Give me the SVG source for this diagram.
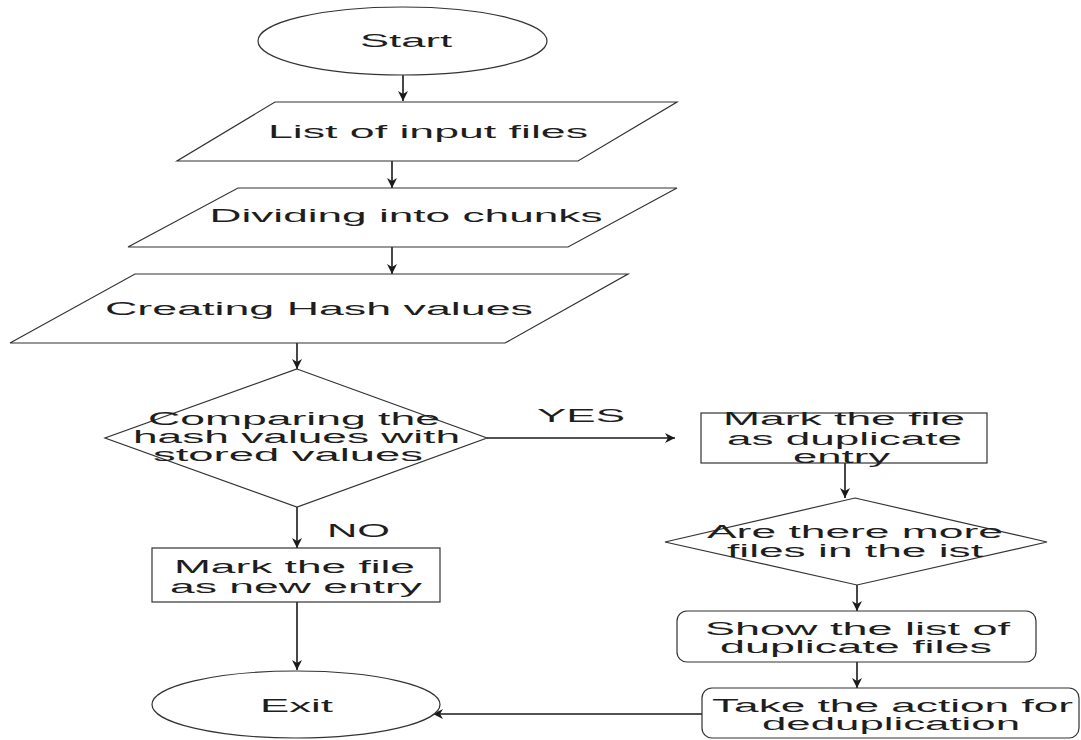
<svg xmlns="http://www.w3.org/2000/svg" width="1081" height="740" viewBox="0 0 1081 740">
<defs>
<marker id="ah" markerUnits="userSpaceOnUse" markerWidth="12" markerHeight="12" refX="10" refY="5" orient="auto">
<path d="M0,0 L10,5 L0,10 L3,5 Z" fill="#1a1a1a"/>
</marker>
<style>
.s{fill:#fff;stroke:#333;stroke-width:1.2}
.t{font-family:"Liberation Sans",Arial,sans-serif;font-size:18px;fill:#1e1e1e;text-anchor:middle}
.c{fill:none;stroke:#1a1a1a;stroke-width:1.6}
</style>
</defs>
<rect width="1081" height="740" fill="#fff"/>
<g id="connectors">
<line class="c" x1="403" y1="75" x2="403" y2="101" marker-end="url(#ah)"/>
<line class="c" x1="392" y1="161" x2="392" y2="188" marker-end="url(#ah)"/>
<line class="c" x1="392" y1="247" x2="392" y2="274" marker-end="url(#ah)"/>
<line class="c" x1="297" y1="343" x2="297" y2="369" marker-end="url(#ah)"/>
<line class="c" x1="487" y1="438" x2="675" y2="438" stroke-width="1.2" marker-end="url(#ah)"/>
<line class="c" x1="297" y1="507" x2="297" y2="548" marker-end="url(#ah)"/>
<line class="c" x1="297" y1="602" x2="297" y2="670" marker-end="url(#ah)"/>
<line class="c" x1="845" y1="463" x2="845" y2="498" marker-end="url(#ah)"/>
<line class="c" x1="857" y1="585" x2="857" y2="611" marker-end="url(#ah)"/>
<line class="c" x1="857" y1="662" x2="857" y2="688" marker-end="url(#ah)"/>
<line class="c" x1="702" y1="714" x2="433" y2="714" stroke-width="1.2" marker-end="url(#ah)"/>
<text class="t" x="581" y="422" textLength="88" lengthAdjust="spacingAndGlyphs">YES</text>
<text class="t" x="358.5" y="537" textLength="63" lengthAdjust="spacingAndGlyphs">NO</text>
</g>
<g id="start">
<ellipse class="s" cx="402.5" cy="41" rx="144.5" ry="34"/>
<text class="t" x="406" y="47" textLength="92" lengthAdjust="spacingAndGlyphs">Start</text>
</g>
<g id="list-input">
<polygon class="s" points="275,102 677,102 578,161 177,161"/>
<text class="t" x="428" y="138" textLength="320" lengthAdjust="spacingAndGlyphs">List of input files</text>
</g>
<g id="dividing">
<polygon class="s" points="238,188 677,188 568,247 128,247"/>
<text class="t" x="406" y="222" textLength="393" lengthAdjust="spacingAndGlyphs">Dividing into chunks</text>
</g>
<g id="creating">
<polygon class="s" points="135,274 628,274 505,343 10,343"/>
<text class="t" x="319" y="315" textLength="428" lengthAdjust="spacingAndGlyphs">Creating Hash values</text>
</g>
<g id="compare">
<polygon class="s" points="297,369 487,438 297,507 105,438"/>
<text class="t" x="294" y="425" textLength="292" lengthAdjust="spacingAndGlyphs">Comparing the</text>
<text class="t" x="296.5" y="443" textLength="327" lengthAdjust="spacingAndGlyphs">hash values with</text>
<text class="t" x="288" y="461" textLength="270" lengthAdjust="spacingAndGlyphs">stored values</text>
</g>
<g id="mark-new">
<rect class="s" x="152" y="548" width="288" height="54"/>
<text class="t" x="294.5" y="573" textLength="241" lengthAdjust="spacingAndGlyphs">Mark the file</text>
<text class="t" x="296" y="593" textLength="252" lengthAdjust="spacingAndGlyphs">as new entry</text>
</g>
<g id="exit">
<ellipse class="s" cx="296" cy="704.5" rx="144" ry="33.5"/>
<text class="t" x="296.5" y="712" textLength="73" lengthAdjust="spacingAndGlyphs">Exit</text>
</g>
<g id="mark-dup">
<rect class="s" x="701" y="413" width="286" height="50"/>
<text class="t" x="844" y="425" textLength="242" lengthAdjust="spacingAndGlyphs">Mark the file</text>
<text class="t" x="844.5" y="445" textLength="235" lengthAdjust="spacingAndGlyphs">as duplicate</text>
<text class="t" x="841.5" y="463" textLength="97" lengthAdjust="spacingAndGlyphs">entry</text>
</g>
<g id="more-files">
<polygon class="s" points="855,498 1047,542 857,585 665,542"/>
<text class="t" x="855" y="538" textLength="296" lengthAdjust="spacingAndGlyphs">Are there more</text>
<text class="t" x="855" y="557" textLength="256" lengthAdjust="spacingAndGlyphs">files in the ist</text>
</g>
<g id="show-list">
<rect class="s" x="677" y="611" width="359" height="51" rx="10"/>
<text class="t" x="857.5" y="635" textLength="305" lengthAdjust="spacingAndGlyphs">Show the list of</text>
<text class="t" x="856" y="653" textLength="272" lengthAdjust="spacingAndGlyphs">duplicate files</text>
</g>
<g id="take-action">
<rect class="s" x="702" y="688" width="377" height="50" rx="10"/>
<text class="t" x="892.5" y="712" textLength="361" lengthAdjust="spacingAndGlyphs">Take the action for</text>
<text class="t" x="891" y="730" textLength="258" lengthAdjust="spacingAndGlyphs">deduplication</text>
</g>
</svg>
